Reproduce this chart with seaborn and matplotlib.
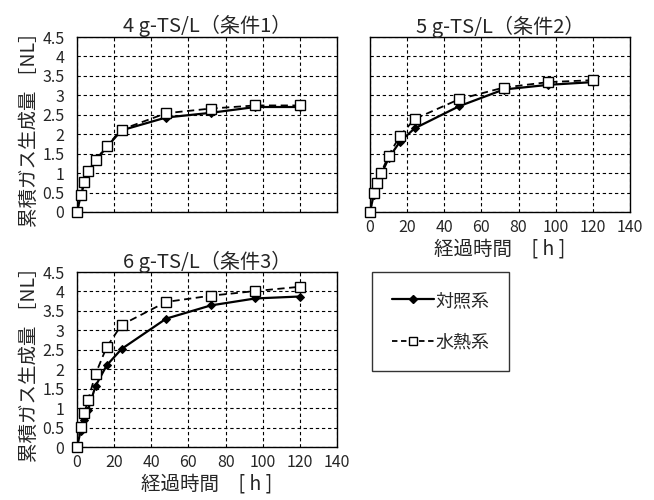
import matplotlib
matplotlib.use("Agg")
import matplotlib.pyplot as plt
import seaborn as sns
import pandas as pd
from matplotlib.lines import Line2D

# 経過時間 [h]
hours = [0, 2, 4, 6, 10, 16, 24, 48, 72, 96, 120]

# 累積ガス生成量 [NL]
cond1_control = [0, 0.42, 0.75, 1.03, 1.32, 1.67, 2.10, 2.43, 2.55, 2.70, 2.70]
cond1_hydro = [0, 0.44, 0.77, 1.05, 1.33, 1.69, 2.12, 2.54, 2.66, 2.74, 2.74]
cond2_control = [0, 0.44, 0.70, 0.96, 1.38, 1.80, 2.15, 2.72, 3.15, 3.27, 3.34]
cond2_hydro = [0, 0.49, 0.74, 1.01, 1.45, 1.95, 2.39, 2.90, 3.20, 3.34, 3.39]
cond3_control = [0, 0.42, 0.70, 0.96, 1.57, 2.10, 2.52, 3.30, 3.64, 3.82, 3.87]
cond3_hydro = [0, 0.51, 0.88, 1.21, 1.88, 2.57, 3.14, 3.73, 3.89, 4.01, 4.12]

titles = ["4 g-TS/L（条件1）", "5 g-TS/L（条件2）", "6 g-TS/L（条件3）"]
series_names = ["対照系", "水熱系"]
y_ticks = [0, 0.5, 1, 1.5, 2, 2.5, 3, 3.5, 4, 4.5]
y_ticklabels = ["0", "0.5", "1", "1.5", "2", "2.5", "3", "3.5", "4", "4.5"]
x_ticks = [0, 20, 40, 60, 80, 100, 120, 140]

sns.set_style("white")
plt.rcParams["font.family"] = ["Noto Sans CJK JP", "DejaVu Sans"]

fig = plt.figure(figsize=(6.54, 5.00), dpi=100)
positions = [
    [0.1177, 0.576, 0.3976, 0.35],
    [0.5657, 0.576, 0.3976, 0.35],
    [0.1177, 0.106, 0.3976, 0.35],
]
data = [
    (cond1_control, cond1_hydro),
    (cond2_control, cond2_hydro),
    (cond3_control, cond3_hydro),
]

for i, (pos, (ctrl, hydro)) in enumerate(zip(positions, data)):
    ax = fig.add_axes(pos)
    df = pd.DataFrame({"h": hours, "ctrl": ctrl, "hydro": hydro})
    sns.lineplot(data=df, x="h", y="ctrl", ax=ax, color="black", lw=1.6,
                 marker="D", markersize=4.5, markerfacecolor="black",
                 markeredgecolor="black", zorder=3)
    sns.lineplot(data=df, x="h", y="hydro", ax=ax, color="black", lw=1.3,
                 linestyle=(0, (4, 2.5)), marker="s", markersize=6.5,
                 markerfacecolor="white", markeredgecolor="black",
                 markeredgewidth=1, zorder=4)
    ax.set_xlim(0, 140)
    ax.set_ylim(0, 4.5)
    ax.set_xticks(x_ticks)
    ax.set_yticks(y_ticks)
    ax.grid(True, color="black", linestyle=(0, (3, 2.5)), lw=0.8)
    for s in ax.spines.values():
        s.set_color("black")
        s.set_linewidth(1.0)
    ax.tick_params(length=0, labelsize=11.5)
    ax.tick_params(axis="y", pad=9)
    ax.tick_params(axis="x", pad=5)
    ax.set_title(titles[i], fontsize=14.5, pad=3)
    ax.set_xlabel("")
    ax.set_ylabel("")
    if i == 1:
        ax.set_yticklabels([])
    else:
        ax.set_yticklabels(y_ticklabels)
        ax.set_ylabel("累積ガス生成量 ［NL］", fontsize=14, labelpad=2)
    if i == 0:
        ax.set_xticklabels([])
    else:
        ax.set_xlabel("経過時間　[ h ]", fontsize=14, labelpad=2)
    for line in ax.get_lines():
        line.set_clip_on(False)

handles = [
    Line2D([], [], color="black", lw=1.6, marker="D", markersize=4.5),
    Line2D([], [], color="black", lw=1.3, linestyle=(0, (3, 2)), marker="s",
           markersize=6, markerfacecolor="white", markeredgecolor="black"),
]
leg = fig.legend(handles, series_names, loc="center",
                 bbox_to_anchor=(0.674, 0.357), frameon=True, fancybox=False,
                 edgecolor="black", fontsize=13, handlelength=2.3,
                 handletextpad=0.1, labelspacing=1.3, borderpad=1.1,
                 borderaxespad=0)
leg.get_frame().set_linewidth(1.0)

fig.savefig("out.png", dpi=100)
